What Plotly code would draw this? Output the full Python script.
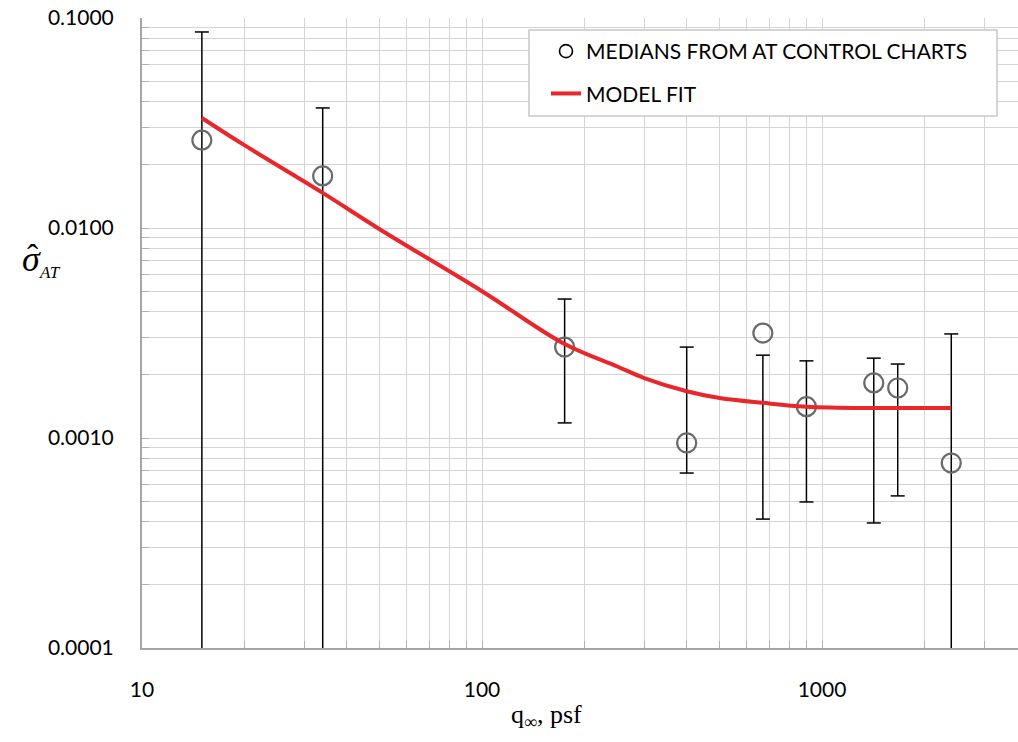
import plotly.graph_objects as go

# ---- data ----
q_med = [15, 34, 175, 400, 670, 900, 1420, 1670, 2400]
s_med = [0.0262, 0.0177, 0.00271, 0.000947, 0.00316, 0.00141, 0.00183, 0.00173, 0.00076]
err_hi = [0.0858, 0.0373, 0.00459, 0.00271, 0.00248, 0.00233, 0.00240, 0.00225, 0.00313]
err_lo = [0.00001, 0.00001, 0.00118, 0.000681, 0.000411, 0.000496, 0.000394, 0.00053, 0.00001]

q_fit = [15, 20, 34, 50, 100, 175, 250, 300, 400, 500, 670, 900, 1420, 1670, 2400]
s_fit = [0.0334, 0.0248, 0.0147, 0.00987, 0.00500, 0.00280, 0.00219, 0.00193, 0.00167,
         0.00155, 0.00147, 0.00141, 0.00139, 0.00139, 0.00139]

x_ticks_major = [10, 100, 1000]
x_tick_labels = ["10", "100", "1000"]
y_ticks_major = [0.0001, 0.001, 0.01, 0.1]
y_tick_labels = ["0.0001", "0.0010", "0.0100", "0.1000"]

legend_names = ["MEDIANS FROM AT CONTROL CHARTS", "MODEL FIT"]

# ---- tick / grid positions ----
def log_grid(lo_exp, hi_exp, limit):
    vals = []
    for e in range(lo_exp, hi_exp + 1):
        for m in range(1, 10):
            v = m * 10 ** e
            if v <= limit * 1.0001:
                vals.append(v)
    return vals

x_vals = log_grid(1, 3, 3770)
y_vals = log_grid(-4, -1, 0.1)
x_text = [x_tick_labels[x_ticks_major.index(v)] if v in x_ticks_major else "" for v in x_vals]
y_text = []
for v in y_vals:
    lab = ""
    for mv, ml in zip(y_ticks_major, y_tick_labels):
        if abs(v - mv) / mv < 1e-9:
            lab = ml
    y_text.append(lab)

# error bar segments
ex, ey = [], []
for q, lo, hi in zip(q_med, err_lo, err_hi):
    ex += [q, q, None]
    ey += [lo, hi, None]

fig = go.Figure()

fig.add_trace(go.Scatter(
    x=ex, y=ey, mode="lines", line=dict(color="black", width=1.5),
    showlegend=False, hoverinfo="skip"))
fig.add_trace(go.Scatter(
    x=q_med + q_med, y=err_hi + err_lo, mode="markers",
    marker=dict(symbol="line-ew", size=10, line=dict(color="black", width=1.5)),
    showlegend=False, hoverinfo="skip"))

fig.add_trace(go.Scatter(
    x=q_med, y=s_med, mode="markers",
    marker=dict(symbol="circle-open", size=19, color="#6a6a6a", line=dict(width=2.2)),
    showlegend=False))
fig.add_trace(go.Scatter(
    x=[None], y=[None], mode="markers", name=legend_names[0],
    legendgroup="a",
    marker=dict(symbol="circle-open", size=13, color="black", line=dict(width=1.6))))

fig.add_trace(go.Scatter(
    x=q_fit, y=s_fit, mode="lines", name=legend_names[1], legendgroup="b",
    line=dict(color="#e8262b", width=4, shape="spline", smoothing=1.0)))

axis_common = dict(
    showgrid=True, gridcolor="#d4d4d4", gridwidth=1.3,
    showline=True, linecolor="#a6a6a6", linewidth=2,
    ticks="inside", ticklen=7, tickcolor="#b0b0b0", tickwidth=1.3,
    tickfont=dict(family="Lato, Noto Sans, sans-serif", size=21, color="black"),
    zeroline=False, mirror=False,
)

fig.update_xaxes(type="log", range=[1, 1 + (1018 - 142) / 340],
                 tickmode="array", tickvals=x_vals, ticktext=x_text,
                 ticklabelstandoff=22, **axis_common)
fig.update_yaxes(type="log", range=[-4, -1],
                 tickmode="array", tickvals=y_vals, ticktext=y_text,
                 ticklabelstandoff=22, **axis_common)

# legend box drawn as a shape (paper coords of the plot area)
def px_x(p):
    return (p - 142) / 876

def px_y(p):
    return (648 - p) / 630

fig.add_shape(type="rect", xref="paper", yref="paper",
              x0=px_x(529), x1=px_x(997), y0=px_y(116), y1=px_y(30),
              fillcolor="white", line=dict(color="#c8c8c8", width=1.5), layer="above")

fig.update_layout(
    width=1018, height=742,
    margin=dict(l=142, r=0, t=18, b=94),
    paper_bgcolor="white", plot_bgcolor="white",
    legend=dict(
        x=px_x(546), y=px_y(31), xanchor="left", yanchor="top",
        bgcolor="rgba(0,0,0,0)", borderwidth=0,
        font=dict(family="Lato, Noto Sans, sans-serif", size=21, color="black"),
        tracegroupgap=12, itemwidth=30,
    ),
    showlegend=True,
)

serif = "Liberation Serif, Times New Roman, serif"

fig.add_annotation(
    xref="paper", yref="paper", x=px_x(546), y=px_y(716),
    text="q<sub>∞</sub>, psf", showarrow=False,
    font=dict(family=serif, size=26, color="black"),
    xanchor="center", yanchor="middle")

# y-axis title: sigma-hat with subscript AT
fig.add_annotation(
    xref="paper", yref="paper", x=px_x(31), y=px_y(259),
    text="<i>σ</i>", showarrow=False,
    font=dict(family=serif, size=36, color="black"),
    xanchor="center", yanchor="middle")
fig.add_annotation(
    xref="paper", yref="paper", x=px_x(33), y=px_y(256),
    text="ˆ", showarrow=False,
    font=dict(family=serif, size=34, color="black"),
    xanchor="center", yanchor="middle")
fig.add_annotation(
    xref="paper", yref="paper", x=px_x(50), y=px_y(272),
    text="<i>AT</i>", showarrow=False,
    font=dict(family=serif, size=17, color="black"),
    xanchor="center", yanchor="middle")

fig.write_html("out.html")
